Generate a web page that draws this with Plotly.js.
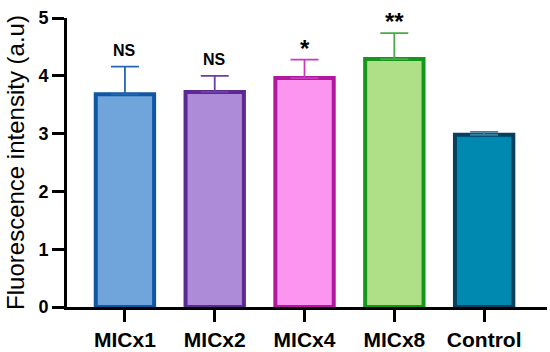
<!DOCTYPE html>
<html>
<head>
<meta charset="utf-8">
<script src="https://cdn.plot.ly/plotly-3.0.1.min.js"></script>
<style>
html,body{margin:0;padding:0;background:#fff;}
#chart{width:550px;height:352px;}
</style>
</head>
<body>
<div id="chart"></div>
<script>
const categories = ["MICx1", "MICx2", "MICx4", "MICx8", "Control"];
const means = [3.68, 3.72, 3.96, 4.29, 2.98];
const errors = [0.48, 0.28, 0.32, 0.45, 0.05];
const significance = ["NS", "NS", "*", "**", ""];
const yTicks = [0, 1, 2, 3, 4, 5];

const fillColors = ["#6fa5db", "#ae8bd8", "#fb95ef", "#afe087", "#0089b0"];
const lineColors = ["#0f56a3", "#5a2a92", "#b4179f", "#14971a", "#073f5f"];
const errColors = ["#2466b3", "#6b3fa6", "#c83cbc", "#4ca84a", "#3f7f9f"];

const FONT = "Arial, Liberation Sans, sans-serif";

const traces = categories.map((c, i) => ({
  type: "bar",
  x: [c],
  y: [means[i]],
  width: 0.65,
  marker: {color: fillColors[i], line: {color: lineColors[i], width: 4}},
  error_y: {type: "data", symmetric: false, array: [errors[i]], arrayminus: [0],
            color: errColors[i], thickness: 1.8, width: 14},
  showlegend: false,
  hoverinfo: "none"
}));

const annotations = categories.map((c, i) => {
  const star = significance[i].indexOf("*") >= 0;
  return {
    x: c, xref: "x", y: means[i] + errors[i], yref: "y",
    text: "<b>" + significance[i] + "</b>",
    showarrow: false, yanchor: "bottom",
    yshift: star ? -4 : 6,
    font: {family: FONT, size: star ? 24 : 16, color: "#000"}
  };
});

const layout = {
  width: 550, height: 352,
  margin: {l: 67, r: 3, t: 18, b: 45},
  paper_bgcolor: "#fff", plot_bgcolor: "#fff",
  barmode: "overlay",
  font: {family: FONT, color: "#000"},
  xaxis: {
    type: "category", categoryorder: "array", categoryarray: categories,
    range: [-0.645, 4.7],
    tickvals: categories, ticktext: categories.map(c => "<b>" + c + "</b>"),
    showline: true, linewidth: 3, linecolor: "#000",
    ticks: "outside", ticklen: 12, tickwidth: 3, tickcolor: "#000",
    tickfont: {size: 21, family: FONT, color: "#000"},
    showgrid: false, zeroline: false, fixedrange: true
  },
  yaxis: {
    range: [0, 5], tickvals: yTicks, ticktext: yTicks.map(v => "<b>" + v + "</b>"),
    showline: true, linewidth: 3, linecolor: "#000",
    ticks: "outside", ticklen: 12, tickwidth: 3, tickcolor: "#000",
    tickfont: {size: 18, family: FONT, color: "#000"},
    showgrid: false, zeroline: false,
    title: {text: "Fluorescence intensity (a.u)", standoff: 7,
            font: {size: 24, family: FONT, color: "#000"}}
  },
  annotations: annotations
};

Plotly.newPlot("chart", traces, layout, {staticPlot: true, displayModeBar: false});
</script>
</body>
</html>
